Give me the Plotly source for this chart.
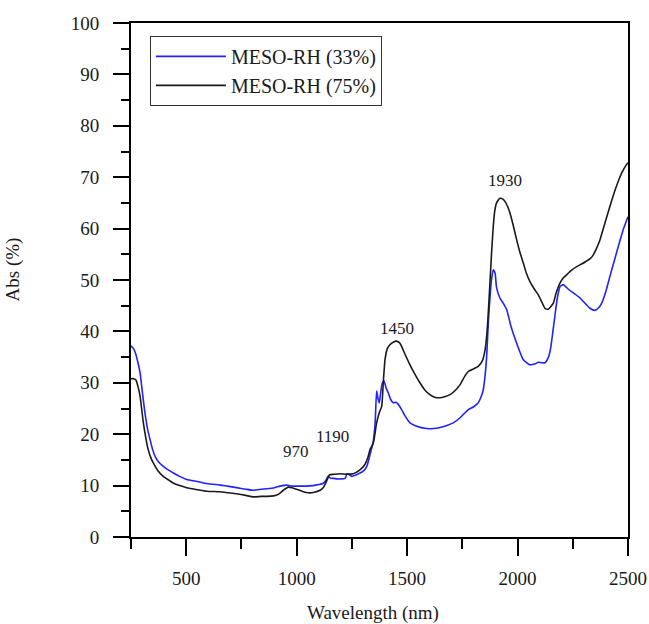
import plotly.graph_objects as go

# Absorbance spectra (%) of the mesoporous sample at two relative humidities
wl_33 = [250, 262, 270, 280, 291, 302, 313, 325, 336, 348, 359, 375, 395, 420, 440, 470,
         502, 550, 593, 653, 700, 728, 770, 803, 840, 864, 900, 925, 955, 980, 1000, 1040,
         1074, 1100, 1119, 1132, 1142, 1152, 1165, 1200, 1219, 1228, 1236, 1249, 1275, 1301,
         1318, 1332, 1346, 1355, 1362, 1368, 1374, 1380, 1387, 1395, 1405, 1415, 1425, 1437,
         1450, 1460, 1475, 1490, 1513, 1540, 1588, 1620, 1649, 1680, 1709, 1740, 1777, 1800,
         1820, 1835, 1845, 1852, 1860, 1868, 1875, 1882, 1890, 1898, 1905, 1920, 1935, 1951,
         1970, 1996, 2026, 2056, 2080, 2094, 2110, 2124, 2140, 2150, 2160, 2169, 2180, 2192,
         2207, 2230, 2252, 2283, 2305, 2328, 2350, 2365, 2381, 2400, 2418, 2456, 2480, 2500]
abs_33 = [37.2, 36.6, 35.8, 34.2, 32.0, 28.0, 24.2, 21.0, 19.0, 17.0, 15.7, 14.6, 13.8, 13.0,
          12.5, 11.8, 11.2, 10.8, 10.4, 10.1, 9.8, 9.6, 9.3, 9.1, 9.3, 9.4, 9.6, 9.9, 10.1, 9.9,
          9.9, 9.9, 10.0, 10.2, 10.4, 11.0, 11.8, 11.5, 11.4, 11.3, 11.4, 12.3, 12.2, 11.8, 12.2,
          12.8, 13.8, 16.0, 18.4, 22.0, 28.4, 27.0, 26.1, 28.0, 29.8, 30.4, 29.0, 28.0, 26.8,
          26.1, 26.2, 25.8, 24.8, 23.6, 22.2, 21.6, 21.1, 21.1, 21.3, 21.7, 22.2, 23.2, 24.8,
          25.3, 26.0, 27.3, 28.7, 31.0, 35.0, 42.0, 46.5, 50.0, 52.0, 51.4, 48.5, 46.5, 45.5,
          44.2, 41.0, 37.7, 34.5, 33.5, 33.7, 34.0, 33.9, 33.9, 35.0, 36.8, 40.0, 43.0, 46.5,
          48.7, 49.1, 48.2, 47.5, 46.5, 45.5, 44.5, 44.1, 44.5, 45.5, 47.8, 50.7, 56.5, 60.0, 62.3]

wl_75 = [250, 262, 273, 282, 291, 298, 306, 317, 328, 340, 351, 370, 396, 420, 441, 470, 502,
         550, 593, 653, 690, 728, 770, 804, 840, 864, 895, 917, 940, 962, 985, 1007, 1030, 1053,
         1080, 1106, 1120, 1128, 1140, 1148, 1170, 1196, 1226, 1256, 1285, 1309, 1322, 1332,
         1347, 1362, 1375, 1385, 1392, 1400, 1410, 1422, 1437, 1452, 1465, 1475, 1490, 1513,
         1535, 1558, 1580, 1603, 1625, 1649, 1670, 1694, 1715, 1739, 1760, 1777, 1800, 1822,
         1840, 1853, 1862, 1868, 1875, 1882, 1890, 1897, 1905, 1920, 1935, 1943, 1955, 1966,
         1980, 1996, 2010, 2026, 2040, 2056, 2075, 2094, 2110, 2124, 2139, 2150, 2162, 2175,
         2192, 2205, 2222, 2245, 2268, 2290, 2313, 2330, 2343, 2358, 2373, 2395, 2418, 2440,
         2464, 2480, 2494, 2500]
abs_75 = [30.8, 30.8, 30.5, 29.2, 27.4, 25.0, 22.2, 19.3, 17.0, 15.4, 14.4, 13.0, 11.8, 11.1,
          10.5, 10.0, 9.6, 9.2, 8.9, 8.8, 8.6, 8.4, 8.1, 7.8, 7.9, 7.9, 8.0, 8.3, 9.1, 9.7, 9.5,
          9.2, 8.8, 8.6, 8.7, 9.1, 9.6, 10.2, 11.3, 12.1, 12.2, 12.3, 12.2, 12.3, 13.0, 14.1,
          15.4, 17.0, 18.3, 22.2, 24.3, 25.4, 30.0, 34.5, 36.6, 37.4, 37.9, 38.1, 37.8, 37.1,
          35.6, 33.5, 31.7, 30.0, 28.6, 27.7, 27.2, 27.1, 27.3, 27.7, 28.4, 29.6, 31.2, 32.2,
          32.7, 33.2, 34.2, 36.4, 40.0, 44.0, 49.4, 55.0, 60.4, 63.5, 65.0, 65.9, 65.7, 65.3,
          64.3, 63.0, 60.7, 57.8, 55.5, 53.3, 51.3, 49.7, 48.3, 47.1, 45.7, 44.5, 44.3, 44.8,
          45.5, 47.5, 49.4, 50.3, 51.0, 51.9, 52.6, 53.1, 53.7, 54.2, 54.9, 56.2, 57.8, 61.0,
          64.3, 67.3, 70.1, 71.5, 72.5, 72.8]

# Band labels: text and where each sits
band_text = ["970", "1190", "1450", "1930"]
band_x = [997, 1160, 1454, 1943]
band_y = [16.6, 19.6, 40.6, 69.4]

FONT = "Liberation Serif, Times New Roman, serif"
INK = "#1a1a1a"

fig = go.Figure()
fig.add_trace(go.Scatter(x=wl_33, y=abs_33, mode="lines", name="MESO-RH (33%)",
                         line=dict(color="#2222ff", width=1.6, shape="spline", smoothing=0.5)))
fig.add_trace(go.Scatter(x=wl_75, y=abs_75, mode="lines", name="MESO-RH (75%)",
                         line=dict(color=INK, width=1.6, shape="spline", smoothing=0.5)))

for t, bx, by in zip(band_text, band_x, band_y):
    fig.add_annotation(x=bx, y=by, text=t, showarrow=False,
                       font=dict(family=FONT, size=17, color=INK))

# Axis titles
fig.add_annotation(xref="paper", yref="paper", x=0.487, y=-0.147, xanchor="center",
                   yanchor="middle", text="Wavelength (nm)", showarrow=False,
                   font=dict(family=FONT, size=19, color=INK))
fig.add_annotation(xref="paper", yref="paper", x=-0.238, y=0.52, xanchor="center",
                   yanchor="middle", text="Abs (%)", textangle=-90, showarrow=False,
                   font=dict(family=FONT, size=19, color=INK))

axis_common = dict(showline=True, linecolor="black", linewidth=2, mirror=True,
                   ticks="outside", tickwidth=2, tickcolor="black", showgrid=False,
                   zeroline=False, automargin=False,
                   tickfont=dict(family=FONT, size=19, color=INK))

fig.update_xaxes(range=[250, 2500], tickvals=[500, 1000, 1500, 2000, 2500], ticklen=17,
                 ticklabelstandoff=6,
                 minor=dict(tickvals=[250, 750, 1250, 1750, 2250], ticklen=10, tickwidth=2,
                            tickcolor="black", ticks="outside"),
                 **axis_common)
fig.update_yaxes(range=[0, 100], dtick=10, ticklen=16, ticklabelstandoff=10,
                 minor=dict(dtick=5, ticklen=8, tickwidth=2, tickcolor="black", ticks="outside"),
                 **axis_common)

fig.update_layout(
    width=649, height=624,
    margin=dict(l=131, r=21, t=23, b=87, autoexpand=False),
    paper_bgcolor="white", plot_bgcolor="white",
    showlegend=True,
    legend=dict(x=0.038, y=0.975, xanchor="left", yanchor="top",
                bordercolor="#333", borderwidth=1, bgcolor="white",
                font=dict(family=FONT, size=20, color=INK),
                tracegroupgap=0, itemwidth=70),
)

fig.write_html("out.html")
